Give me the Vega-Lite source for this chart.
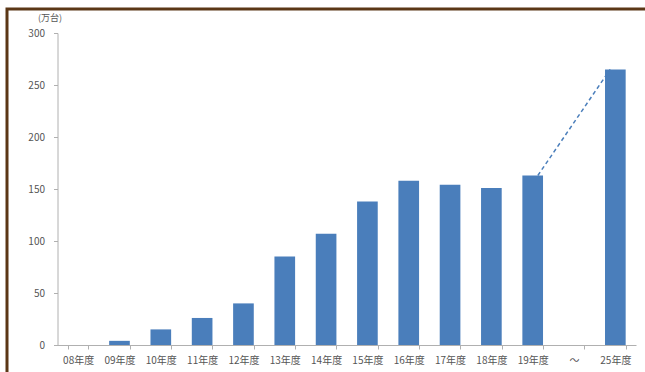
{
  "$schema": "https://vega.github.io/schema/vega-lite/v6.json",
  "autosize": "none",
  "padding": {"left": 7, "top": 9, "right": 0, "bottom": 0},
  "width": 700,
  "height": 380,
  "background": "white",
  "config": {
    "view": {"stroke": "#5b3716", "strokeWidth": 3},
    "font": "Noto Sans CJK JP",
    "axis": {"grid": false, "domainColor": "#b0b0b0", "tickColor": "#b0b0b0", "labelColor": "#555555", "labelFontSize": 10, "tickSize": 4}
  },
  "datasets": {
    "bars": [
      {"year": "08年度", "value": 0},
      {"year": "09年度", "value": 4},
      {"year": "10年度", "value": 15},
      {"year": "11年度", "value": 26},
      {"year": "12年度", "value": 40},
      {"year": "13年度", "value": 85},
      {"year": "14年度", "value": 107},
      {"year": "15年度", "value": 138},
      {"year": "16年度", "value": 158},
      {"year": "17年度", "value": 154},
      {"year": "18年度", "value": 151},
      {"year": "19年度", "value": 163},
      {"year": "～", "value": 0},
      {"year": "25年度", "value": 265}
    ],
    "link": [
      {"from": "19年度", "to": "25年度", "v1": 163, "v2": 265}
    ]
  },
  "layer": [
    {
      "data": {"name": "bars"},
      "mark": {"type": "bar", "color": "#4a7ebb"},
      "encoding": {
        "x": {
          "field": "year", "type": "nominal", "sort": null,
          "scale": {"domain": ["08年度", "09年度", "10年度", "11年度", "12年度", "13年度", "14年度", "15年度", "16年度", "17年度", "18年度", "19年度", "～", "25年度"], "range": [50.5, 629], "paddingInner": 0.5, "paddingOuter": 0.25},
          "axis": {"title": null, "labelAngle": 0, "offset": -44, "tickBand": "extent", "labelPadding": 6}
        },
        "y": {
          "field": "value", "type": "quantitative",
          "scale": {"domain": [0, 300], "range": [336, 24], "nice": false},
          "axis": {"values": [0, 50, 100, 150, 200, 250, 300], "offset": -50.5, "title": "(万台)", "titleAngle": 0, "titleX": -8, "titleY": 8, "titleAlign": "center", "titleBaseline": "middle", "titleFontSize": 9, "titleFontWeight": "normal", "titleColor": "#555555", "labelPadding": 9}
        }
      }
    },
    {
      "data": {"name": "link"},
      "mark": {"type": "rule", "color": "#4a7ebb", "strokeDash": [4, 3], "strokeWidth": 1.5},
      "encoding": {
        "x": {"field": "from", "type": "nominal", "bandPosition": 0.75},
        "x2": {"field": "to", "bandPosition": 0.25},
        "y": {"field": "v1", "type": "quantitative"},
        "y2": {"field": "v2"}
      }
    }
  ]
}
